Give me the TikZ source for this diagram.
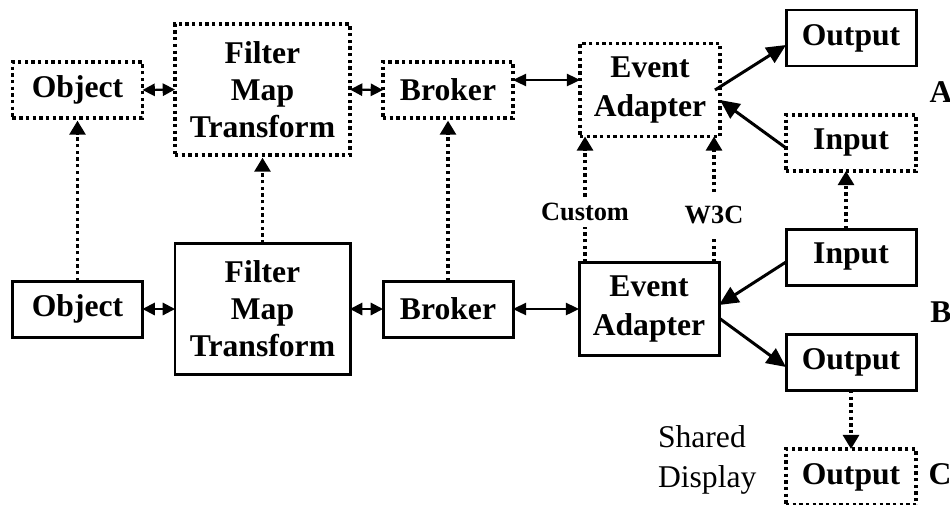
\documentclass[tikz,border=0pt]{standalone}
\usepackage{fontspec}
\setmainfont{Liberation Serif}
\usetikzlibrary{positioning, calc, arrows.meta}

\begin{document}
\begin{tikzpicture}[x=0.2mm,y=-0.2mm,
    every node/.style={inner sep=0,outer sep=0,align=center,
      font=\fontsize{18}{21}\selectfont\bfseries},
    sbox/.style={draw,line width=1.7pt,minimum width=26mm,minimum height=11.2mm},
    dbox/.style={sbox,line width=1.9pt,dash pattern=on 1.9pt off 1.9pt},
    dotline/.style={line width=1.9pt,dash pattern=on 1.9pt off 1.9pt},
    dotarrow/.style={dotline,-{Triangle[width=9pt,length=8pt]}},
    dbl/.style={line width=1.2pt,{Triangle[width=7pt,length=7pt]}-{Triangle[width=7pt,length=7pt]}},
    dbllong/.style={line width=1.1pt,{Triangle[width=7pt,length=7.5pt]}-{Triangle[width=7pt,length=7.5pt]}},
    solarrow/.style={line width=1.7pt,-{Triangle[width=10pt,length=11pt]}},
    small/.style={font=\fontsize{15}{18}\selectfont\bfseries}]
      \useasboundingbox (0,0) rectangle (950,504);

      \node(objtop)[dbox] at (77.5,90) {Object};
      \node(fmttop)[dbox,minimum width=35mm,minimum height=26.2mm] at (262.5,89.5) {Filter\\Map\\Transform};
      \node(brotop)[dbox] at (448,90) {Broker};
      \node(eatop)[dbox,minimum width=28mm,minimum height=18.6mm,
        font=\fontsize{18}{22.7}\selectfont\bfseries] at (650,90) {Event\\Adapter};
      \node(outtop)[sbox] at (851,38) {Output};
      \node(intop)[dbox] at (851,143) {Input};
      \node(la) at (941,92) {A};

      \node(objbot)[sbox] at (77.5,309) {Object};
      \node(fmtbot)[sbox,minimum width=35mm,minimum height=26.2mm] at (262.5,309) {Filter\\Map\\Transform};
      \node(brobot)[sbox] at (448,309) {Broker};
      \node(eabot)[sbox,minimum width=28mm,minimum height=18.6mm,
        font=\fontsize{18}{22.7}\selectfont\bfseries] at (649,309) {Event\\Adapter};
      \node(inbot)[sbox] at (851,257) {Input};
      \node(outbot)[sbox] at (851,362) {Output};
      \node(lb) at (941,312) {B};

      \node(outc)[dbox] at (851,477) {Output};
      \node(lc) at (940,474) {C};
      \node(shared)[anchor=west,align=left,font=\fontsize{18}{22.7}\selectfont] at (658,460) {Shared\\Display};

      \node(custom)[small,inner ysep=1.3mm] at (585,212) {Custom};
      \node(w3c)[small,inner ysep=2.8mm] at (714,215) {W3C};

      \draw[dbl](objtop.east)--(fmttop.west);
      \draw[dbl](fmttop.east)--(brotop.west);
      \draw[dbllong]([yshift=2mm]brotop.east)--([yshift=2mm]eatop.west);
      \draw[dbl](objbot.east)--(fmtbot.west);
      \draw[dbl](fmtbot.east)--(brobot.west);
      \draw[dbllong](brobot.east)--(eabot.west);

      \draw[dotarrow,shorten >=1.5pt](objbot.north)--(objtop.south);
      \draw[dotarrow,shorten >=1.5pt](fmtbot.north)--(fmttop.south);
      \draw[dotarrow,shorten >=1.5pt](brobot.north)--(brotop.south);
      \draw[dotline](eabot.north -| custom)--(custom.south);
      \draw[dotarrow](custom.north)--(eatop.south -| custom);
      \draw[dotline](eabot.north -| w3c)--(w3c.south);
      \draw[dotarrow](w3c.north)--(eatop.south -| w3c);
      \draw[dotarrow]([xshift=-1mm]inbot.north)--([xshift=-1mm]intop.south);
      \draw[dotarrow](outbot.south)--(outc.north);

      \draw[solarrow]([xshift=-1mm]eatop.east)--([yshift=-1.4mm]outtop.west);
      \draw[solarrow]([yshift=-1mm]intop.west)--([yshift=-2mm]eatop.east);
      \draw[solarrow]([yshift=-1mm]inbot.west)--([yshift=0.8mm]eabot.east);
      \draw[solarrow]([yshift=-1.8mm]eabot.east)--([yshift=-1mm]outbot.west);
\end{tikzpicture}
\end{document}
